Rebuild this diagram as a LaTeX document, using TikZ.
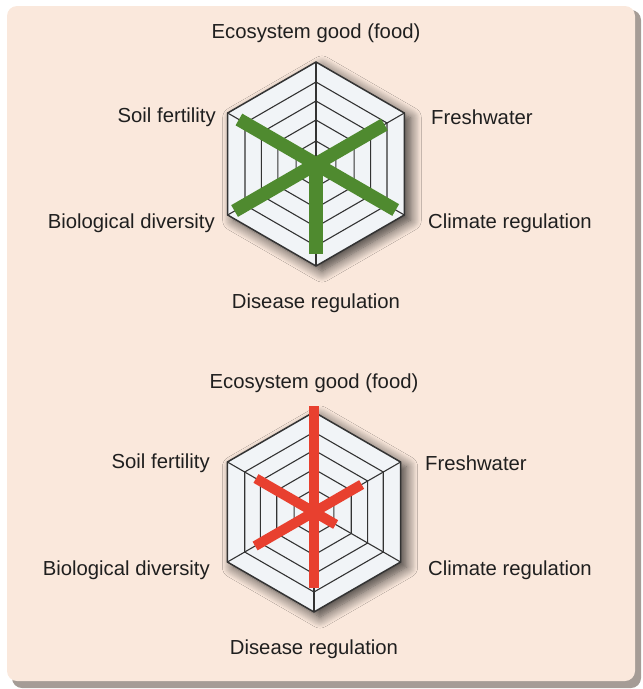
\documentclass[tikz,border=0pt]{standalone}
\usepackage{fontspec}
\setmainfont{Liberation Sans}
\usetikzlibrary{shadows.blur}

\definecolor{peach}{HTML}{FAE8DC}
\definecolor{boxshade}{HTML}{A59C96}
\definecolor{webfill}{HTML}{F1F4F7}
\definecolor{webline}{HTML}{333333}
\definecolor{barGreen}{HTML}{4F8A2F}
\definecolor{barRed}{HTML}{E8402F}

\tikzset{
  lbl/.style={font=\fontsize{20.3}{24}\selectfont, text=black!88, inner sep=0pt},
  ring/.style={draw=webline, line width=1.1pt},
  webbase/.style={fill=webfill, blur shadow={shadow xshift=6pt, shadow yshift=-5pt,
      shadow blur radius=11pt, shadow blur steps=12, shadow opacity=75}},
  greenbar/.style={draw=barGreen, line width=13.5pt},
  redbar/.style={draw=barRed, line width=10pt}
}

\begin{document}
\begin{tikzpicture}[x=1pt,y=1pt]
\useasboundingbox (0,0) rectangle (643,-689);

% panel with its shadow
\fill[boxshade, rounded corners=10pt] (12,-10) rectangle (641,-688);
\fill[peach, rounded corners=10pt] (7,-6) rectangle (635,-681);

% upper chart
\begin{scope}[shift={(316,-164)}]
\coordinate (upc) at (0,0);
\fill[webbase] (90:102) -- (30:102) -- (-30:102) -- (-90:102) -- (-150:102) -- (150:102) -- cycle;
\foreach \r in {82,63,44,23}
  \draw[ring] (90:\r) -- (30:\r) -- (-30:\r) -- (-90:\r) -- (-150:\r) -- (150:\r) -- cycle;
\draw[ring, line width=1.5pt] (90:102) -- (30:102) -- (-30:102) -- (-90:102) -- (-150:102) -- (150:102) -- cycle;
\foreach \a in {90,30,-30,-90,-150,150}
  \draw[ring] (upc) -- (\a:102);
% bars
\draw[greenbar] (150:89) -- (-30:92);
\draw[greenbar] (-150:94) -- (30:79);
\draw[greenbar] (upc) -- (-90:90);
% labels
\node[lbl, anchor=south] (upfood) at (0,121) {Ecosystem good (food)};
\node[lbl, anchor=east] (upsoil) at (-100,47) {Soil fertility};
\node[lbl, anchor=west] (upfresh) at (115,47) {Freshwater};
\node[lbl, anchor=east] (upbio) at (-101,-59) {Biological diversity};
\node[lbl, anchor=west] (upclim) at (112,-59) {Climate regulation};
\node[lbl] (updis) at (0,-139) {Disease regulation};
\end{scope}

% lower chart
\begin{scope}[shift={(314,-512)}]
\coordinate (loc) at (0,0);
\fill[webbase] (90:100) -- (30:100) -- (-30:100) -- (-90:100) -- (-150:100) -- (150:100) -- cycle;
\foreach \r in {80,62,43,23}
  \draw[ring] (90:\r) -- (30:\r) -- (-30:\r) -- (-90:\r) -- (-150:\r) -- (150:\r) -- cycle;
\draw[ring, line width=1.5pt] (90:100) -- (30:100) -- (-30:100) -- (-90:100) -- (-150:100) -- (150:100) -- cycle;
\foreach \a in {90,30,-30,-90,-150,150}
  \draw[ring] (loc) -- (\a:100);
% bars
\draw[redbar] (90:106) -- (-90:76);
\draw[redbar] (150:67) -- (-30:25);
\draw[redbar] (-150:68) -- (30:55);
% labels
\node[lbl, anchor=south] (lofood) at (0,119) {Ecosystem good (food)};
\node[lbl, anchor=east] (losoil) at (-104,49) {Soil fertility};
\node[lbl, anchor=west] (lofresh) at (111,49) {Freshwater};
\node[lbl, anchor=east] (lobio) at (-104,-58) {Biological diversity};
\node[lbl, anchor=west] (loclim) at (114,-58) {Climate regulation};
\node[lbl] (lodis) at (0,-137) {Disease regulation};
\end{scope}
\end{tikzpicture}
\end{document}
